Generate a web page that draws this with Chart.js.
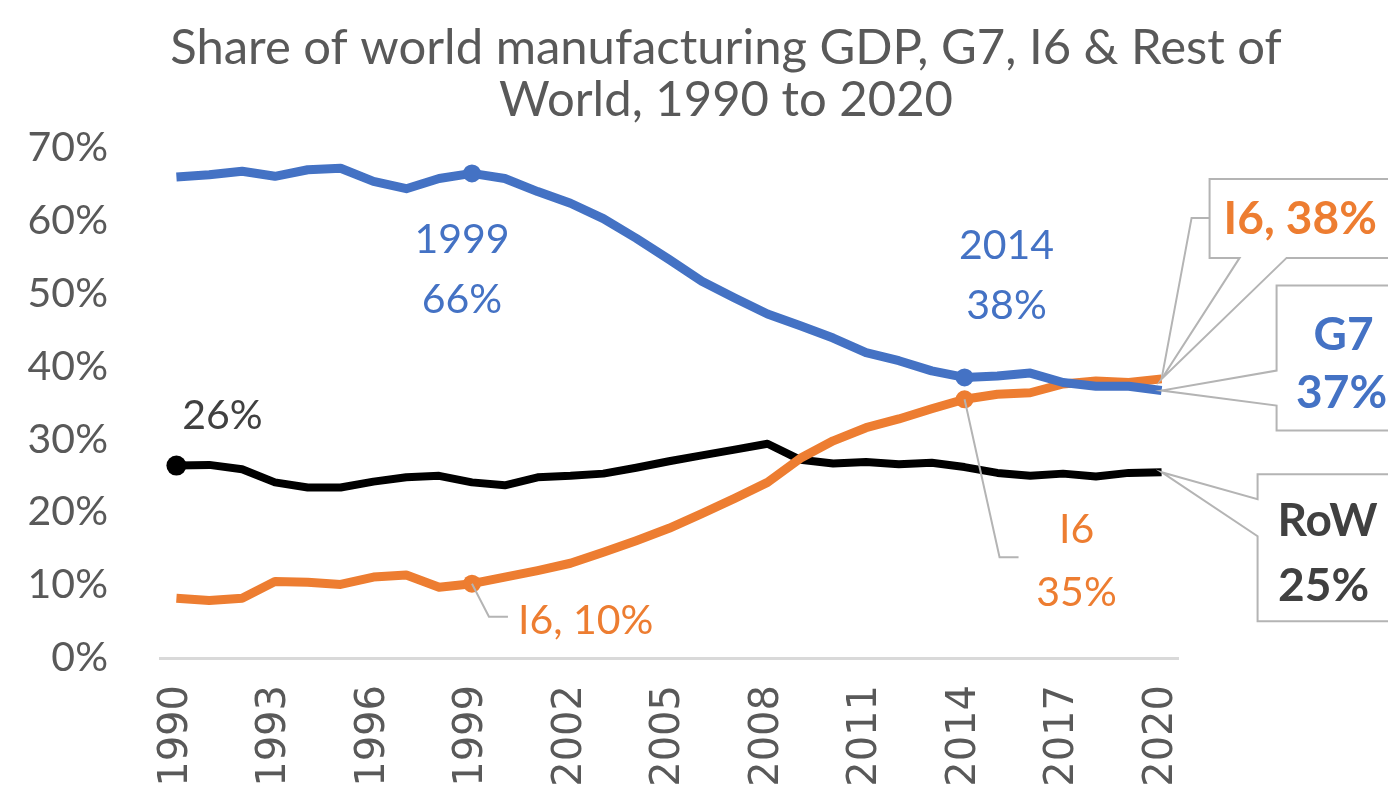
<!DOCTYPE html>
<html lang="en">
<head>
    <meta charset="UTF-8">
    <title>Share of world manufacturing GDP</title>
    <script src="https://cdn.jsdelivr.net/npm/chart.js"></script>
    <style>
        body { margin: 0; background: #fff; }
        #wrap { width: 1388px; height: 802px; }
    </style>
</head>
<body>
    <div id="wrap"><canvas id="shareChart" width="1388" height="802"></canvas></div>

    <script>
        // data (percent of world manufacturing GDP)
        const years = ['1990', '1991', '1992', '1993', '1994', '1995', '1996', '1997', '1998', '1999',
            '2000', '2001', '2002', '2003', '2004', '2005', '2006', '2007', '2008', '2009',
            '2010', '2011', '2012', '2013', '2014', '2015', '2016', '2017', '2018', '2019', '2020'];
        const g7Share = [66.0, 66.3, 66.8, 66.1, 67.0, 67.2, 65.4, 64.4, 65.8, 66.5,
            65.8, 64.0, 62.4, 60.3, 57.6, 54.7, 51.7, 49.4, 47.2, 45.6,
            43.9, 41.9, 40.8, 39.4, 38.5, 38.7, 39.1, 37.8, 37.3, 37.3, 36.7];
        const i6Share = [8.2, 7.9, 8.2, 10.5, 10.4, 10.1, 11.1, 11.4, 9.7, 10.2,
            11.1, 12.0, 13.0, 14.5, 16.1, 17.8, 19.8, 21.9, 24.1, 27.4,
            29.8, 31.6, 32.8, 34.2, 35.5, 36.2, 36.4, 37.6, 38.0, 37.8, 38.3];
        const rowShare = [26.4, 26.5, 25.9, 24.1, 23.4, 23.4, 24.2, 24.8, 25.0, 24.1,
            23.7, 24.8, 25.0, 25.3, 26.1, 27.0, 27.8, 28.6, 29.4, 27.2,
            26.7, 26.9, 26.6, 26.8, 26.2, 25.4, 25.0, 25.3, 24.9, 25.4, 25.5];
        const yTicks = [0, 10, 20, 30, 40, 50, 60, 70];

        const BLUE = '#4472C4';
        const ORANGE = '#ED7D31';
        const GREY_TEXT = '#595959';
        const DARK = '#404040';
        const LEADER = '#b4b4b4';

        // which points get a marker
        function markers(n, idxs, r) {
            const out = new Array(n).fill(0);
            idxs.forEach(i => out[i] = r);
            return out;
        }

        // labels are placed relative to the pixel of the point they describe
        const callouts = [
            { ds: 2, idx: 0, color: DARK, lines: [{ t: '26%', dx: 46, dy: -50 }] },
            { ds: 0, idx: 9, color: BLUE, lines: [{ t: '1999', dx: -10, dy: 66 }, { t: '66%', dx: -10, dy: 126 }] },
            { ds: 0, idx: 24, color: BLUE, lines: [{ t: '2014', dx: 42, dy: -132 }, { t: '38%', dx: 42, dy: -72 }] },
            { ds: 1, idx: 9, color: ORANGE, leader: [[17, 33], [36, 33]],
              lines: [{ t: 'I6, 10%', dx: 46, dy: 37, align: 'left' }] },
            { ds: 1, idx: 24, color: ORANGE, leader: [[35, 158], [54, 158]],
              lines: [{ t: 'I6', dx: 112, dy: 130 }, { t: '35%', dx: 112, dy: 193 }] },
            { ds: 1, idx: 30, color: ORANGE, bold: true, leader: [[30, -161], [48, -161]],
              box: { dx: 48, dy: -200, h: 79, side: 'bottom', w1: 78, w2: 125 },
              lines: [{ t: 'I6, 38%', dx: 62, dy: -160, align: 'left' }] },
            { ds: 0, idx: 30, color: BLUE, bold: true,
              box: { dx: 115, dy: -105, h: 145, side: 'left', w1: -20, w2: 15 },
              lines: [{ t: 'G7', dx: 182, dy: -55 }, { t: '37%', dx: 180, dy: 3 }] },
            { ds: 2, idx: 30, color: DARK, bold: true,
              box: { dx: 96, dy: 2, h: 147, side: 'left', w1: 27, w2: 64 },
              lines: [{ t: 'RoW', dx: 166, dy: 49 }, { t: '25%', dx: 162, dy: 114 }] }
        ];

        const calloutPlugin = {
            id: 'callouts',
            afterDatasetsDraw(chart) {
                const ctx = chart.ctx;
                const right = chart.width + 20;
                ctx.save();
                callouts.forEach(c => {
                    const pt = chart.getDatasetMeta(c.ds).data[c.idx];
                    const px = pt.x, py = pt.y;
                    ctx.strokeStyle = LEADER;
                    ctx.lineWidth = 2;
                    ctx.lineJoin = 'miter';

                    if (c.box) {
                        const b = c.box;
                        const x0 = px + b.dx, y0 = py + b.dy, y1 = y0 + b.h;
                        ctx.beginPath();
                        if (b.side === 'bottom') {
                            ctx.moveTo(x0, y0);
                            ctx.lineTo(right, y0);
                            ctx.lineTo(right, y1);
                            ctx.lineTo(px + b.w2, y1);
                            ctx.lineTo(px, py);
                            ctx.lineTo(px + b.w1, y1);
                            ctx.lineTo(x0, y1);
                        } else {
                            ctx.moveTo(x0, y0);
                            ctx.lineTo(right, y0);
                            ctx.lineTo(right, y1);
                            ctx.lineTo(x0, y1);
                            ctx.lineTo(x0, py + b.w2);
                            ctx.lineTo(px, py);
                            ctx.lineTo(x0, py + b.w1);
                        }
                        ctx.closePath();
                        ctx.fillStyle = '#ffffff';
                        ctx.fill();
                        ctx.stroke();
                    }

                    if (c.leader) {
                        ctx.beginPath();
                        ctx.moveTo(px, py);
                        c.leader.forEach(p => ctx.lineTo(px + p[0], py + p[1]));
                        ctx.stroke();
                    }

                    ctx.fillStyle = c.color;
                    ctx.textBaseline = 'middle';
                    ctx.font = (c.bold ? 'bold 46px' : '41px') + ' Lato, "Open Sans", sans-serif';
                    c.lines.forEach(l => {
                        ctx.textAlign = l.align || 'center';
                        ctx.fillText(l.t, px + l.dx, py + l.dy);
                    });
                });
                ctx.restore();
            }
        };

        const ctx = document.getElementById('shareChart').getContext('2d');

        new Chart(ctx, {
            type: 'line',
            data: {
                labels: years,
                datasets: [
                    {
                        label: 'G7',
                        data: g7Share,
                        borderColor: BLUE,
                        backgroundColor: BLUE,
                        borderWidth: 9,
                        pointRadius: markers(years.length, [9, 24], 9),
                        pointBorderWidth: 0,
                    },
                    {
                        label: 'I6',
                        data: i6Share,
                        borderColor: ORANGE,
                        backgroundColor: ORANGE,
                        borderWidth: 9,
                        pointRadius: markers(years.length, [9, 24], 9),
                        pointBorderWidth: 0,
                    },
                    {
                        label: 'RoW',
                        data: rowShare,
                        borderColor: '#000000',
                        backgroundColor: '#000000',
                        borderWidth: 8,
                        pointRadius: markers(years.length, [0], 10),
                        pointBorderWidth: 0,
                    },
                ],
            },
            options: {
                responsive: false,
                animation: false,
                events: [],
                elements: {
                    line: { tension: 0, borderJoinStyle: 'round', borderCapStyle: 'butt' },
                },
                // negative right padding moves the full-width title's centre right;
                // the x axis keeps 210px free on the right for the callout boxes
                layout: { padding: { left: 20, right: -44, top: 0, bottom: 8 } },
                plugins: {
                    legend: { display: false },
                    tooltip: { enabled: false },
                    title: {
                        display: true,
                        text: ['Share of world manufacturing GDP, G7, I6 & Rest of', 'World, 1990 to 2020'],
                        color: GREY_TEXT,
                        font: { family: 'Lato, "Open Sans", sans-serif', size: 49, weight: 'normal', lineHeight: 1.06 },
                        padding: { top: 22, bottom: 22 },
                    },
                },
                scales: {
                    x: {
                        offset: true,
                        grid: { display: false, drawTicks: false },
                        border: { display: true, color: '#d9d9d9', width: 3 },
                        afterFit: (axis) => {
                            axis.height = 136;
                            axis.paddingLeft = 0;
                            axis.paddingRight = 210;
                        },
                        ticks: {
                            autoSkip: false,
                            maxRotation: 90,
                            minRotation: 90,
                            padding: 27,
                            color: GREY_TEXT,
                            font: { family: '"DejaVu Sans", sans-serif', size: 40 },
                            callback: (v, i) => (i % 3 === 0 ? years[i] : ''),
                        },
                    },
                    y: {
                        min: yTicks[0],
                        max: yTicks[yTicks.length - 1],
                        grid: { display: false, drawTicks: false },
                        border: { display: false },
                        afterBuildTicks: (axis) => { axis.ticks = yTicks.map(v => ({ value: v })); },
                        afterFit: (axis) => { axis.width = 140; },
                        ticks: {
                            padding: 52,
                            color: GREY_TEXT,
                            font: { family: 'Lato, "Open Sans", sans-serif', size: 41 },
                            callback: (v) => v + '%',
                        },
                    },
                },
            },
            plugins: [calloutPlugin],
        });
    </script>
</body>
</html>
